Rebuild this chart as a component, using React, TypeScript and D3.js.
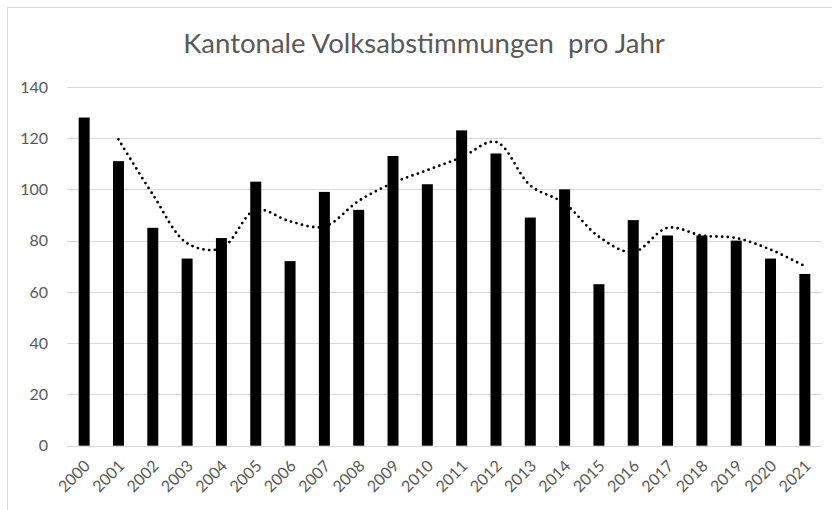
import { useEffect, useRef } from 'react'
import * as d3 from 'd3'

const years = [
  '2000', '2001', '2002', '2003', '2004', '2005', '2006', '2007', '2008', '2009', '2010',
  '2011', '2012', '2013', '2014', '2015', '2016', '2017', '2018', '2019', '2020', '2021',
]
const votes = [128, 111, 85, 73, 81, 103, 72, 99, 92, 113, 102, 123, 114, 89, 100, 63, 88, 82, 82, 80, 73, 67]
// dotted trend line, starts at 2001
const trendYears = years.slice(1)
const trendValues = [119.5, 98, 79, 77, 92, 87.5, 85.5, 95.5, 102.5, 107.5, 112.5, 118.5, 101.5, 94.5, 81.5, 75.5, 85, 82, 81, 76.5, 70]
const yTicks = [0, 20, 40, 60, 80, 100, 120, 140]
const title = 'Kantonale Volksabstimmungen\u00a0 pro Jahr'

export default function App() {
  const svgRef = useRef<SVGSVGElement>(null)
  const width = 832
  const height = 510

  useEffect(() => {
    if (!svgRef.current) return
    const svg = d3.select(svgRef.current)
    svg.selectAll('*').remove()

    const margin = { top: 86.8, right: 10, bottom: 64.3, left: 67 }
    const textColor = '#595959'
    const gridColor = '#d9d9d9'

    // chart border (only top/left visible)
    svg.append('rect')
      .attr('x', 7.5)
      .attr('y', 7.5)
      .attr('width', width + 20)
      .attr('height', height + 20)
      .attr('fill', 'white')
      .attr('stroke', gridColor)

    const xScale = d3.scaleBand<string>()
      .domain(years)
      .range([margin.left, width - margin.right])
      .paddingInner(0.68)
      .paddingOuter(0.34)

    const yScale = d3.scaleLinear()
      .domain([0, 140])
      .range([height - margin.bottom, margin.top])

    // gridlines
    svg.append('g')
      .selectAll('line')
      .data(yTicks)
      .join('line')
      .attr('x1', margin.left)
      .attr('x2', width - margin.right)
      .attr('y1', d => Math.round(yScale(d)) + 0.5)
      .attr('y2', d => Math.round(yScale(d)) + 0.5)
      .attr('stroke', gridColor)
      .attr('stroke-width', 1)

    // y tick labels
    svg.append('g')
      .selectAll('text')
      .data(yTicks)
      .join('text')
      .attr('x', 48)
      .attr('y', d => yScale(d))
      .attr('dy', '0.36em')
      .attr('text-anchor', 'end')
      .attr('fill', textColor)
      .style('font', '16px Lato, sans-serif')
      .text(d => d)

    // bars
    svg.append('g')
      .selectAll('rect')
      .data(votes)
      .join('rect')
      .attr('x', (_, i) => xScale(years[i])!)
      .attr('width', xScale.bandwidth())
      .attr('y', d => yScale(d))
      .attr('height', d => yScale(0) - yScale(d))
      .attr('fill', '#000')

    // dotted trend line
    const line = d3.line<number>()
      .x((_, i) => xScale(trendYears[i])! + xScale.bandwidth() / 2)
      .y(d => yScale(d))
      .curve(d3.curveCatmullRom.alpha(0.5))

    svg.append('path')
      .datum(trendValues)
      .attr('d', line)
      .attr('fill', 'none')
      .attr('stroke', '#000')
      .attr('stroke-width', 2.8)
      .attr('stroke-linecap', 'round')
      .attr('stroke-dasharray', '0 5.7')

    // x labels
    svg.append('g')
      .selectAll('text')
      .data(years)
      .join('text')
      .attr('transform', d => `translate(${xScale(d)! + xScale.bandwidth() / 2 + 7},${467}) rotate(-45)`)
      .attr('text-anchor', 'end')
      .attr('fill', textColor)
      .style('font', '16px Lato, sans-serif')
      .text(d => d)

    // title
    svg.append('text')
      .attr('x', 424)
      .attr('y', 53)
      .attr('text-anchor', 'middle')
      .attr('fill', textColor)
      .style('font', '27.5px Lato, sans-serif')
      .text(title)
  }, [])

  return (
    <div style={{ position: 'absolute', left: 0, top: 0 }}>
      <svg ref={svgRef} width={width} height={height} style={{ display: 'block' }} />
    </div>
  )
}
